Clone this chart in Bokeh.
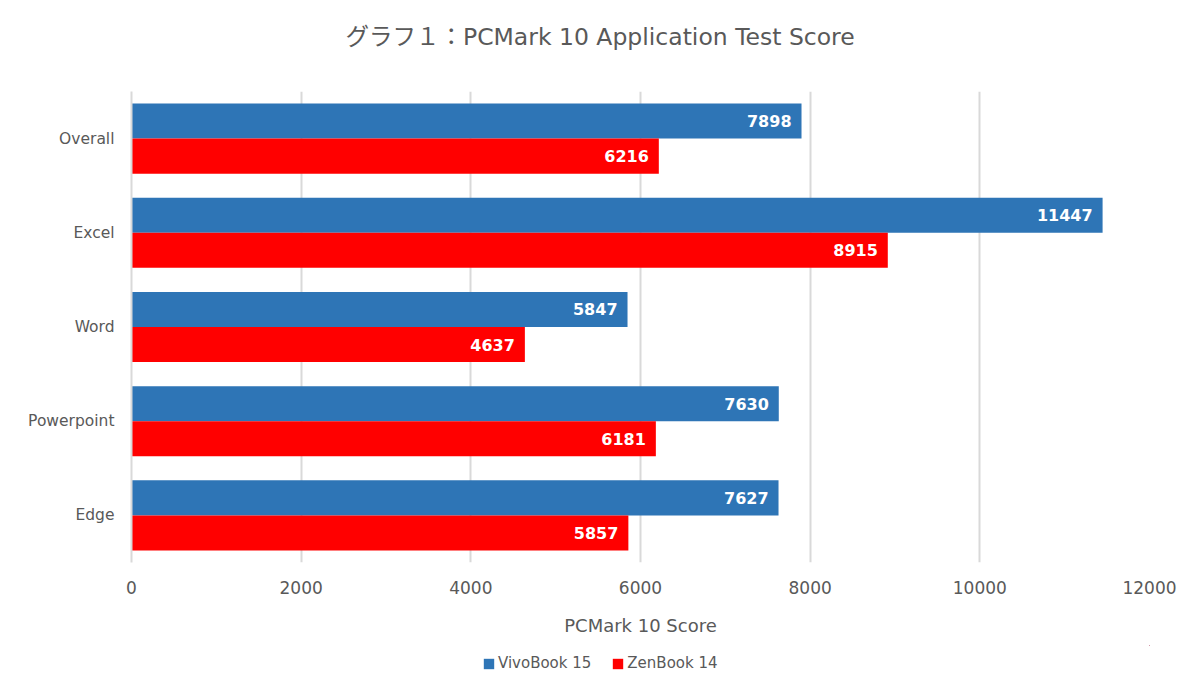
from bokeh.plotting import figure
from bokeh.layouts import column
from bokeh.models import FactorRange, Range1d, ColumnDataSource, Legend, LegendItem, Title, FixedTicker
from bokeh.transform import dodge
from bokeh.core.properties import value
from bokeh.embed import file_html
from bokeh.resources import INLINE

categories = ["Overall", "Excel", "Word", "Powerpoint", "Edge"]
vivobook = [7898, 11447, 5847, 7630, 7627]
zenbook = [6216, 8915, 4637, 6181, 5857]
x_ticks = [0, 2000, 4000, 6000, 8000, 10000, 12000]
series_names = ["VivoBook 15", "ZenBook 14"]
title_text = "グラフ１：PCMark 10 Application Test Score"
x_title = "PCMark 10 Score"

TXT = "#595959"
GRID = "#D9D9D9"
BLUE = "#2E75B6"
RED = "#FF0000"
FONT = "DejaVu Sans"

src = ColumnDataSource(dict(cat=categories, v=vivobook, z=zenbook,
                            vl=[str(a) for a in vivobook], zl=[str(a) for a in zenbook]))

p = figure(width=1184, height=645, output_backend="svg", toolbar_location=None,
           y_range=FactorRange(factors=categories[::-1], range_padding=0),
           x_range=Range1d(0, 12000),
           min_border_left=131, min_border_right=35, min_border_top=91, min_border_bottom=83)
p.title = None
p.outline_line_color = None

off = 0.186
h = 0.372
rv = p.hbar(y=dodge("cat", off, range=p.y_range), right="v", left=0, height=h, source=src,
            fill_color=BLUE, line_color=None)
rz = p.hbar(y=dodge("cat", -off, range=p.y_range), right="z", left=0, height=h, source=src,
            fill_color=RED, line_color=None)

p.text(x="v", y=dodge("cat", off, range=p.y_range), text="vl", source=src, x_offset=-10,
       text_align="right", text_baseline="middle", text_color="white",
       text_font=value(FONT), text_font_style="bold", text_font_size="16px")
p.text(x="z", y=dodge("cat", -off, range=p.y_range), text="zl", source=src, x_offset=-10,
       text_align="right", text_baseline="middle", text_color="white",
       text_font=value(FONT), text_font_style="bold", text_font_size="16px")

# axes
p.xaxis.ticker = FixedTicker(ticks=x_ticks)
p.xaxis.axis_line_color = None
p.xaxis.major_tick_line_color = None
p.xaxis.minor_tick_line_color = None
p.xaxis.major_tick_out = 0
p.xaxis.major_label_text_color = TXT
p.xaxis.major_label_text_font = FONT
p.xaxis.major_label_text_font_size = "17px"
p.xaxis.major_label_standoff = 18
p.xaxis.axis_label = x_title
p.xaxis.axis_label_text_font = FONT
p.xaxis.axis_label_text_font_size = "18px"
p.xaxis.axis_label_text_font_style = "normal"
p.xaxis.axis_label_text_color = TXT
p.xaxis.axis_label_standoff = 18

p.yaxis.axis_line_color = GRID
p.yaxis.axis_line_width = 2
p.yaxis.major_tick_line_color = None
p.yaxis.minor_tick_line_color = None
p.yaxis.major_label_text_color = TXT
p.yaxis.major_label_text_font = FONT
p.yaxis.major_label_text_font_size = "15.5px"
p.yaxis.major_label_standoff = 11

p.xgrid.grid_line_color = GRID
p.xgrid.grid_line_width = 2
p.ygrid.grid_line_color = None

# spacer (adjacent to frame) then the real title above it
spacer = Title(text=" ", text_font=FONT, text_font_size="10px", standoff=23)
p.add_layout(spacer, "above")
t = Title(text=title_text, align="left", offset=214, text_font="DejaVu Sans, Noto Sans CJK JP",
          text_font_size="23.5px", text_font_style="normal", text_color=TXT, standoff=10)
p.add_layout(t, "above")

# legend strip below the chart (its bars lie outside its ranges, only the legend shows)
pl = figure(width=1184, height=35, output_backend="svg", toolbar_location=None,
            y_range=FactorRange(factors=categories[::-1]), x_range=Range1d(-2, -1),
            x_axis_location=None, y_axis_location=None,
            min_border_left=0, min_border_right=0, min_border_top=0, min_border_bottom=0)
pl.title = None
pl.outline_line_color = None
pl.xgrid.visible = False
pl.ygrid.visible = False
lv = pl.hbar(y=dodge("cat", 50, range=pl.y_range), right="v", left=0, height=0.4, source=src,
             fill_color=BLUE, line_color=None)
lz = pl.hbar(y=dodge("cat", 50, range=pl.y_range), right="z", left=0, height=0.4, source=src,
             fill_color=RED, line_color=None)
legend = Legend(items=[LegendItem(label=series_names[0], renderers=[lv]),
                       LegendItem(label=series_names[1], renderers=[lz])],
                orientation="horizontal", location=(351, 8),
                label_text_font=FONT, label_text_font_size="15px", label_text_color=TXT,
                glyph_width=13, glyph_height=13, label_standoff=3, spacing=20,
                border_line_color=None, background_fill_alpha=0, padding=0, margin=0)
pl.add_layout(legend, "center")

layout = column(p, pl, spacing=0)
open("out.html", "w").write(file_html(layout, INLINE))
